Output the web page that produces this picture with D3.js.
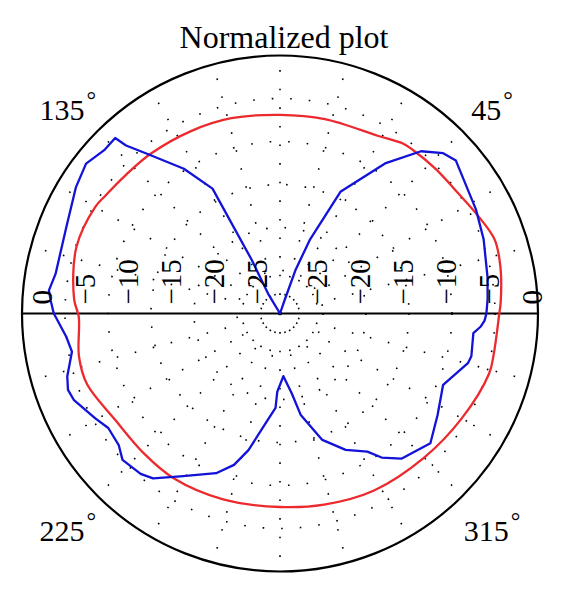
<!DOCTYPE html>
<html>
<head>
<meta charset="utf-8" />
<script src="https://cdn.jsdelivr.net/npm/d3@7"></script>
<style>
  body { margin: 0; background: #fff; }
  svg text { font-family: "Liberation Serif", "Times New Roman", serif; fill: #000; }
  .grid { fill: none; stroke: #000; stroke-width: 1.6; stroke-dasharray: 1.6 17; }
  .frame { fill: none; stroke: #000; stroke-width: 2.2; }
  .trace { fill: none; stroke-width: 2.3; stroke-linejoin: round; }
</style>
</head>
<body>
<script>
"use strict";

// angles in degrees (counter-clockwise from 0 = east), values in dB
var redAngles = [0, 3, 12, 19, 26, 34, 43, 51, 54, 61, 77, 90, 104, 116, 129, 138, 146, 150, 162, 176,
  181, 192, 200, 213, 226, 237, 253, 270, 283, 298, 315, 330, 344, 349];
var redDb = [-4.5, -4.3, -3.8, -3.6, -4.3, -5.0, -5.3, -5.5, -5.6, -6.4, -6.8, -6.9, -6.6, -6.4, -6.1, -5.9, -5.5, -5.2, -5.1, -6.0,
  -6.6, -6.1, -6.1, -7.2, -7.3, -7.2, -7.4, -7.5, -7.2, -6.7, -6.3, -5.6, -4.7, -4.7];

var blueAngles = [0, 4, 10, 20, 28, 41, 44.5, 49, 55, 63.6, 68, 70.4, 71, 90, 121, 117.8, 118.4, 123.6, 129.7, 132.5,
  133.2, 137.1, 142.3, 148.3, 158, 170, 174.3, 176.8, 180, 186.2, 190.4, 196.5, 199.8, 202.7, 209.6, 213.7,
  219.2, 222.9, 229, 232.4, 238.5, 248.2, 253.1, 257, 262.9, 267.3, 268, 273.1, 278.4, 281.5, 288.5, 295.7,
  302.3, 305.2, 309.9, 319.2, 327.2, 336.4, 345.2, 347.4, 354.2, 356.3, 358];
var blueDb = [-6.0, -5.8, -5.5, -4.8, -4.2, -2.9, -3.4, -5.0, -8.7, -14.2, -20.8, -24.7, -28.4, -30, -27.3, -23, -13.5, -9.8, -5.9, -3.5,
  -2.0, -2.1, -1.5, -2.1, -3.2, -3.5, -3.0, -3.3, -3.7, -5.0, -5.4, -4.2, -3.8, -4.0, -5.3, -6.0,
  -5.8, -5.0, -5.3, -5.8, -7.8, -10.0, -11.6, -13.7, -17.3, -19.0, -20.9, -22.7, -20.6, -18.0, -14.5, -12.4,
  -11.0, -9.5, -8.0, -6.9, -8.2, -9.3, -7.4, -7.2, -7.4, -6.6, -6.2];

var ringTicks = [0, -5, -10, -15, -20, -25];
var spokeAngles = d3.range(0, 360, 15);
var angleLabels = [45, 135, 225, 315];
var title = "Normalized plot";

var width = 567, height = 596;
var cx = 280, cy = 313.5, R = 258;

var r = d3.scaleLinear().domain([-30, 0]).range([0, R]).clamp(true);
var rad = function(deg) { return deg * Math.PI / 180; };

var svg = d3.select("body").append("svg")
  .attr("width", width)
  .attr("height", height);

var g = svg.append("g").attr("transform", "translate(" + cx + "," + cy + ")");

// dotted rings
g.selectAll("circle.grid")
  .data(ringTicks.filter(function(v) { return v < 0; }))
  .enter().append("circle")
  .attr("class", "grid")
  .attr("r", function(v) { return r(v); });

// dotted spokes
g.selectAll("line.grid")
  .data(spokeAngles.filter(function(a) { return a % 180 !== 0; }))
  .enter().append("line")
  .attr("class", "grid")
  .attr("x1", 0).attr("y1", 0)
  .attr("x2", function(a) { return R * Math.cos(rad(a)); })
  .attr("y2", function(a) { return -R * Math.sin(rad(a)); });

// outer circle and horizontal axis
g.append("circle").attr("class", "frame").attr("r", R);
g.append("line").attr("class", "frame")
  .attr("x1", -R).attr("x2", R).attr("y1", 0).attr("y2", 0);

// traces
function trace(angles, values) {
  return angles.map(function(a, i) { return { a: a, v: values[i] }; });
}
var line = d3.lineRadial()
  .angle(function(d) { return rad(90 - d.a); })
  .radius(function(d) { return r(d.v); });

g.append("path").attr("class", "trace")
  .attr("stroke", "#ec2a2e")
  .attr("d", line.curve(d3.curveCatmullRomClosed)(trace(redAngles, redDb)));

g.append("path").attr("class", "trace")
  .attr("stroke", "#1212d8")
  .attr("d", line.curve(d3.curveLinearClosed)(trace(blueAngles, blueDb)));

// dB labels, rotated, on both sides of the horizontal axis
var fmt = function(v) { return v < 0 ? "\u2212" + Math.abs(v) : String(v); };
var tickLabels = [];
ringTicks.forEach(function(v) {
  tickLabels.push({ v: v, x: r(v) - 6 });
  tickLabels.push({ v: v, x: -r(v) + 20 });
});
g.selectAll("text.tick")
  .data(tickLabels)
  .enter().append("text")
  .attr("class", "tick")
  .attr("transform", function(d) { return "translate(" + d.x + "," + (-9) + ") rotate(-90)"; })
  .attr("text-anchor", "start")
  .attr("dominant-baseline", "central")
  .style("font-size", "29px")
  .text(function(d) { return fmt(d.v); });

// angle labels
var lab = g.selectAll("text.ang")
  .data(angleLabels)
  .enter().append("text")
  .attr("class", "ang")
  .attr("x", function(a) { return 300 * Math.cos(rad(a)); })
  .attr("y", function(a) { return -298 * Math.sin(rad(a)) + 6; })
  .attr("text-anchor", "middle")
  .attr("dominant-baseline", "central")
  .style("font-size", "30px");
lab.append("tspan").text(function(a) { return a; });
lab.append("tspan").attr("dx", 2).attr("dy", -9).style("font-size", "24px").text("\u00b0");

// title
svg.append("text")
  .attr("x", 284)
  .attr("y", 48)
  .attr("text-anchor", "middle")
  .style("font-size", "32px")
  .text(title);
</script>
</body>
</html>
